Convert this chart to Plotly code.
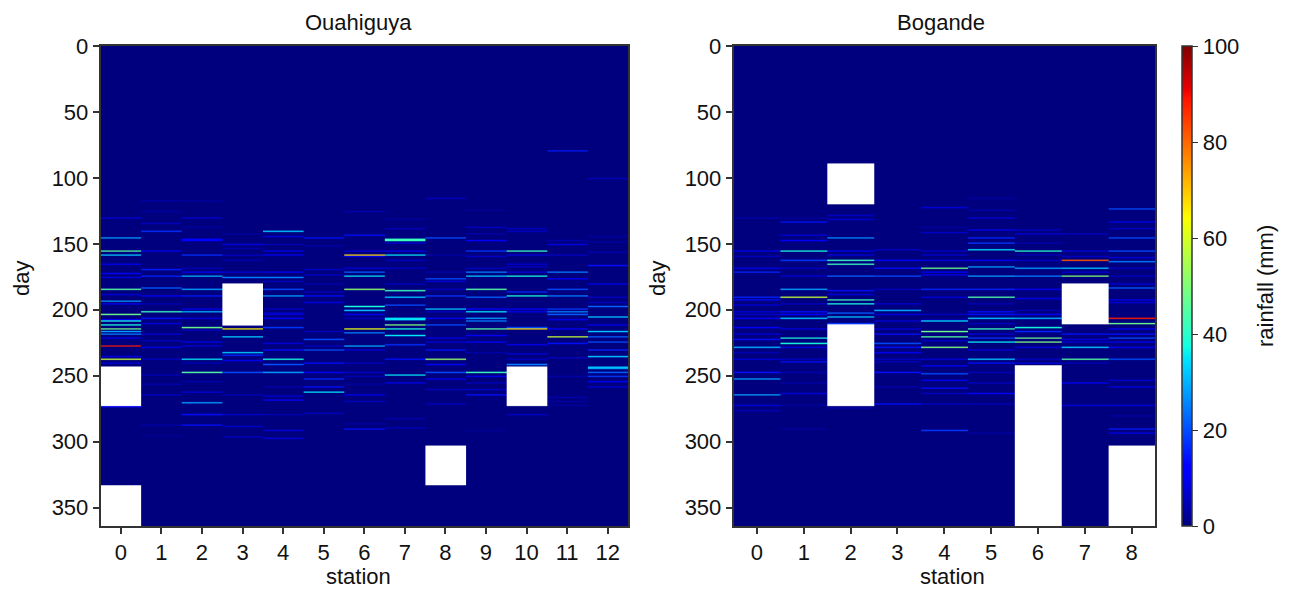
import plotly.graph_objects as go

# (day, rainfall mm) events per station; all other days are 0
oua_0 = [(130,8),(145,28),(155,45),(158,32),(165,10),(172,10),(175,8),(184,45),(188,7),(193,28),(195,10),(203,48),(207,12),(208,38),(211,38),(214,48),(216,28),(218,25),(221,10),(227,88),(235,8),(237,58),(240,8),(273,12)]
oua_1 = [(117,4),(125,3),(134,5),(140,17),(155,10),(169,15),(174,16),(183,22),(189,12),(195,5),(201,42),(206,14),(210,8),(218,8),(223,6),(228,9),(237,6),(249,5),(256,4),(264,6),(287,4),(295,2)]
oua_2 = [(117,3),(130,8),(137,3),(146,12),(147,12),(158,17),(168,5),(171,12),(174,30),(184,28),(189,15),(199,10),(201,30),(206,8),(213,48),(215,6),(224,10),(227,8),(237,35),(240,5),(247,45),(254,4),(262,8),(270,28),(279,14),(287,14)]
oua_3 = [(142,3),(150,8),(153,4),(158,6),(162,4),(171,8),(175,25),(214,65),(220,33),(232,33),(234,16),(238,10),(247,20),(264,5),(279,6),(288,6),(296,6)]
oua_4 = [(140,32),(144,8),(150,4),(155,10),(158,10),(171,10),(175,25),(178,5),(184,20),(189,28),(199,6),(202,6),(203,8),(206,12),(213,18),(225,8),(230,14),(237,38),(241,20),(247,28),(258,4),(265,8),(268,12),(279,4),(291,8),(297,8)]
oua_5 = [(145,14),(151,4),(169,6),(173,6),(180,4),(186,6),(189,14),(194,8),(216,5),(222,20),(227,6),(230,20),(240,14),(247,10),(252,16),(258,14),(262,35),(278,6)]
oua_6 = [(125,4),(143,14),(155,8),(158,68),(159,12),(168,8),(171,22),(174,35),(184,52),(197,38),(200,32),(203,10),(206,6),(214,62),(217,25),(227,30),(230,8),(240,6),(247,6),(250,5),(256,3),(264,10),(269,5),(286,3),(290,14)]
oua_7 = [(131,3),(138,5),(146,42),(147,42),(149,8),(155,10),(158,35),(162,6),(168,6),(180,6),(185,42),(190,32),(196,20),(206,35),(207,35),(211,50),(214,38),(219,35),(226,17),(237,14),(249,35),(255,10),(282,4),(289,6)]
oua_8 = [(115,6),(145,20),(158,3),(171,4),(176,20),(178,8),(184,6),(189,18),(199,32),(201,6),(206,10),(211,20),(221,10),(224,8),(230,14),(237,52),(241,10),(247,20),(252,10),(260,5),(271,6)]
oua_9 = [(124,2),(137,6),(142,4),(147,12),(155,18),(159,7),(168,6),(171,25),(174,32),(184,45),(190,22),(199,12),(201,35),(206,28),(208,25),(214,45),(219,10),(224,12),(232,4),(247,42),(250,10),(255,6),(260,6),(264,14),(291,2)]
oua_10 = [(138,6),(140,6),(155,42),(158,8),(165,8),(167,6),(171,8),(174,38),(186,16),(189,38),(199,12),(201,10),(213,20),(214,68),(226,10),(233,8),(237,6),(241,25),(279,6)]
oua_11 = [(79,15),(147,4),(150,8),(158,6),(171,25),(176,12),(184,20),(189,25),(199,18),(201,25),(203,22),(207,10),(214,12),(220,58),(225,14),(236,6),(250,4),(266,4),(269,3),(272,3)]
oua_12 = [(100,5),(144,3),(148,3),(156,4),(166,14),(180,10),(190,6),(194,5),(197,22),(205,32),(211,10),(216,32),(220,22),(224,20),(230,16),(235,32),(243,32),(244,30),(247,22),(250,18),(254,12),(258,8)]

bog_0 = [(130,4),(155,10),(159,6),(168,10),(171,16),(190,16),(192,14),(196,8),(201,8),(203,7),(206,12),(213,12),(218,8),(222,14),(228,30),(232,5),(237,8),(247,14),(252,28),(264,28),(272,8),(276,5)]
bog_1 = [(130,3),(133,14),(143,8),(147,12),(155,38),(162,18),(168,6),(174,8),(184,28),(190,58),(195,6),(201,14),(203,12),(206,32),(214,8),(221,38),(225,38),(228,8),(237,6),(239,14),(247,4),(255,4),(263,7),(272,3),(290,3)]
bog_2 = [(128,6),(131,7),(145,26),(155,10),(158,8),(162,42),(165,42),(174,22),(185,14),(188,8),(192,42),(195,38),(202,22),(205,32),(210,18),(274,4)]
bog_3 = [(154,6),(162,12),(168,14),(174,20),(184,5),(195,7),(200,30),(203,8),(208,8),(214,8),(218,14),(225,20),(228,14),(232,12),(237,6),(239,6),(247,14),(258,4),(271,14)]
bog_4 = [(122,8),(137,3),(141,7),(155,7),(158,7),(162,8),(168,48),(171,12),(173,10),(184,16),(190,8),(203,6),(207,5),(208,35),(216,48),(220,45),(223,7),(228,50),(237,8),(242,12),(248,20),(253,10),(259,14),(263,5),(271,6),(291,18)]
bog_5 = [(115,3),(124,4),(130,8),(139,10),(145,16),(149,18),(154,35),(162,10),(167,28),(174,28),(184,16),(190,45),(195,5),(201,14),(203,14),(206,32),(210,6),(214,42),(218,8),(221,18),(224,36),(230,8),(237,32),(240,14),(247,5),(255,6),(263,10),(271,5),(293,3)]
bog_6 = [(139,6),(142,8),(149,4),(155,40),(158,5),(162,6),(168,28),(174,25),(184,10),(191,9),(200,4),(203,10),(206,30),(213,38),(216,16),(221,48),(224,50),(228,8),(237,6),(240,8)]
bog_7 = [(142,6),(155,8),(159,7),(162,82),(168,32),(171,8),(174,50),(218,14),(222,8),(224,8),(228,32),(237,45),(240,5),(255,12),(272,8)]
bog_8 = [(123,20),(133,10),(138,6),(145,20),(155,20),(160,8),(163,25),(168,6),(174,6),(180,8),(183,22),(192,10),(194,7),(206,88),(210,48),(214,10),(218,14),(221,20),(224,10),(228,10),(237,20),(253,7),(258,9),(272,8),(280,3),(290,15),(293,9)]

# station index -> (first, last) days with no record
oua_missing = {0: [(243, 272), (333, 363)], 3: [(180, 211)], 8: [(303, 332)], 10: [(243, 272)]}
bog_missing = {2: [(89, 119), (211, 272)], 6: [(242, 363)], 7: [(180, 210)], 8: [(303, 363)]}

oua_stations = [oua_0, oua_1, oua_2, oua_3, oua_4, oua_5, oua_6, oua_7, oua_8, oua_9, oua_10, oua_11, oua_12]
bog_stations = [bog_0, bog_1, bog_2, bog_3, bog_4, bog_5, bog_6, bog_7, bog_8]
N_DAYS = 364
day_ticks = [0, 50, 100, 150, 200, 250, 300, 350]
bar_ticks = [0, 20, 40, 60, 80, 100]

# matplotlib "jet" stops
jet = [[0,'rgb(0,0,127)'],[0.11,'rgb(0,0,254)'],[0.125,'rgb(0,0,255)'],[0.34,'rgb(0,220,255)'],[0.35,'rgb(0,229,247)'],
       [0.375,'rgb(20,255,226)'],[0.64,'rgb(249,255,0)'],[0.65,'rgb(255,244,0)'],[0.66,'rgb(255,234,0)'],[0.89,'rgb(255,19,0)'],
       [0.91,'rgb(232,0,0)'],[1,'rgb(127,0,0)']]

SUB = 40  # cells per station, so that the smoothing stays along the day axis only

def grid(stations, missing):
    rows = [[0.0] * len(stations) for _ in range(N_DAYS)]
    for s, events in enumerate(stations):
        for d, v in events:
            rows[d][s] = v
        for a, b in missing.get(s, []):
            for d in range(a, b + 1):
                rows[d][s] = None
    return [[v for v in r for _ in range(SUB)] for r in rows]

OFF = 8  # default page margin around the figure
W, H = 1290 - OFF, 590 - OFF
def fx(px): return (px - OFF) / W
def fy(px): return 1 - (px - OFF) / H

FONT = "Liberation Sans"
INK = "#333333"
TXT = "#111111"
SZ = 22
fig = go.Figure()
hm = dict(y0=0.5, dy=1, x0=-0.5 + 0.5 / SUB, dx=1 / SUB, colorscale=jet, zmin=0, zmax=100, zsmooth="fast", hoverongaps=False)
fig.add_trace(go.Heatmap(z=grid(oua_stations, oua_missing), showscale=False, xaxis="x", yaxis="y", **hm))
fig.add_trace(go.Heatmap(z=grid(bog_stations, bog_missing), xaxis="x2", yaxis="y2",
                         colorbar=dict(x=fx(1182), xanchor="left", y=fy(46), yanchor="top", len=480 / H, lenmode="fraction",
                                       thickness=10, thicknessmode="pixels", outlinewidth=1.5, outlinecolor=INK,
                                       tickvals=bar_ticks, ticks="outside", ticklen=6, tickcolor=INK, xpad=0, ypad=0,
                                       tickfont=dict(size=SZ, family=FONT, color=TXT)),
                         **hm))

def xa(dom, n):
    return dict(domain=[fx(dom[0] + 0.5), fx(dom[1])], range=[-0.5, n - 0.5], tickmode="array", tickvals=list(range(n)),
                ticks="outside", ticklen=6, tickcolor=INK, tickwidth=1.5, showline=True, linecolor=INK, linewidth=1.5, mirror=True,
                showgrid=False, zeroline=False, tickfont=dict(size=SZ, family=FONT, color=TXT))
def ya(anchor):
    return dict(domain=[fy(526), fy(46)], range=[364, 0], tickmode="array", tickvals=day_ticks, anchor=anchor,
                ticks="outside", ticklen=6, tickcolor=INK, tickwidth=1.5, showline=True, linecolor=INK, linewidth=1.5, mirror=True,
                showgrid=False, zeroline=False, tickfont=dict(size=SZ, family=FONT, color=TXT))

def label(text, x, y, angle=0):
    return dict(text=text, x=fx(x), y=fy(y), xref="paper", yref="paper", showarrow=False, xanchor="center", yanchor="middle",
                textangle=angle, font=dict(size=SZ, family=FONT, color=TXT))

fig.update_layout(width=W, height=H, margin=dict(l=0, r=0, t=0, b=0, autoexpand=False), paper_bgcolor="white", plot_bgcolor="white",
                  xaxis=dict(xa((100, 628), 13), anchor="y"), yaxis=ya("x"),
                  xaxis2=dict(xa((733, 1155), 9), anchor="y2"), yaxis2=ya("x2"),
                  annotations=[label("Ouahiguya", 358, 22), label("Bogande", 941, 22),
                               label("station", 358, 576), label("station", 952, 576),
                               label("day", 21, 279, -90), label("day", 657, 279, -90),
                               label("rainfall (mm)", 1265, 286, -90)])
fig.write_html("out.html")
